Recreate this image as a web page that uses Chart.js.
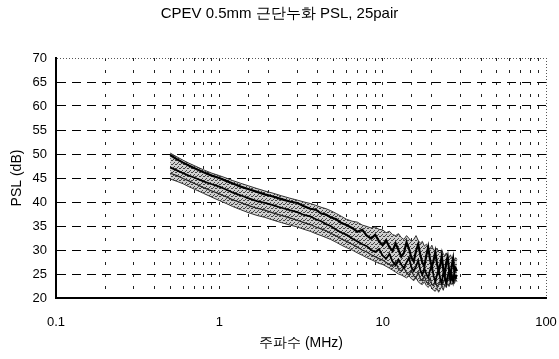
<!DOCTYPE html>
<html><head><meta charset="utf-8">
<script src="https://cdn.jsdelivr.net/npm/chart.js@4/dist/chart.umd.min.js"></script>
<style>html,body{margin:0;padding:0;background:#fff}#w{width:559px;height:359px}</style>
</head><body><div id="w"><canvas id="c"></canvas></div>
<script>
const titleText = "CPEV 0.5mm 근단누화 PSL, 25pair";
const xTitle = "주파수 (MHz)";
const yTitle = "PSL (dB)";
const xTickLabels = [0.1, 1, 10, 100];
const freq = [0.5,0.55,0.6,0.65,0.7,0.8,0.9,1.0,1.1,1.2,1.35,1.5,1.7,1.9,2.1,2.4,2.7,
  3.0,3.3,3.6,3.9,4.2,4.5,4.8, 5.2,5.6,6.0, 6.5,7.0,7.5,8.0,8.5,9.0,9.5,10,
  10.5,11,11.5,12,12.5,13,13.5,14,14.5,15,15.5,16,16.5,17,17.5,18,18.5,19,19.5,20,20.5,21,21.5,22,22.5,23,23.5,24,24.5,25,25.5,26,26.5,27,27.5,28,28.5];
const bandTop = [50.2,49.4,48.7,48.1,47.6,46.7,46.0,45.5,45.0,44.5,43.9,43.4,42.8,42.3,41.9,41.3,40.8,
  40.4,40.0,39.7,39.3,38.9,38.6,38.2, 37.6,37.0,36.4, 36.0,35.8,35.2,34.9,34.6,34.8,34.3,34.2,
  33.6,33.9,33.2,33.0,33.4,32.6,32.2,33.0,32.4,31.8,32.2,33.0,32.0,31.4,31.8,30.8,31.2,30.6,30.2,31.0,30.0,29.8,30.4,29.6,29.4,30.0,29.2,28.8,29.4,28.6,28.4,29.0,28.2,28.6,27.8,28.4,28.0];
const bandBottom = [44.8,44.3,43.8,43.2,42.7,41.8,41.0,40.3,39.7,39.1,38.4,37.8,37.2,36.8,36.3,35.7,35.2,
  34.8,34.3,33.9,33.4,33.0,32.6,32.2, 31.6,31.0,30.5, 30.0,29.4,28.9,28.4,28.0,27.6,27.2,27.0,
  26.6,26.2,25.8,25.4,25.0,24.8,24.5,24.2,24.6,24.0,23.6,24.2,23.4,23.0,22.8,23.4,22.6,22.2,22.8,22.0,21.6,21.4,22.0,21.2,21.8,22.4,21.6,22.8,22.2,23.0,22.4,23.4,22.8,23.2,23.0,23.8,23.4];
const lineA = [49.8,48.9,48.2,47.6,47.1,46.2,45.5,45.0,44.4,43.9,43.2,42.7,42.1,41.6,41.2,40.6,40.1,
  39.8,39.1,38.6,38.4,37.6,37.4,36.8, 36.4,35.6,35.2, 34.6,33.8,34.2,33.0,32.4,33.2,31.8,31.0,
  32.0,30.6,29.8,31.4,30.0,28.6,29.4,31.6,30.2,28.4,27.6,29.8,31.2,29.0,27.4,26.6,28.8,30.6,28.0,26.4,27.8,29.6,27.2,25.6,26.8,28.8,26.0,24.8,27.4,28.6,25.8,24.6,26.8,28.2,25.4,26.2,25.6];
const lineB = [47.2,46.6,46.0,45.5,45.1,44.3,43.7,43.2,42.6,42.0,41.4,40.8,40.2,39.8,39.4,38.8,38.3,
  37.9,37.3,37.0,36.4,36.0,35.4,35.0, 34.2,33.6,33.2, 32.4,31.8,31.2,30.8,30.0,29.6,30.2,28.8,
  28.2,29.2,27.6,26.8,28.0,27.0,26.2,27.4,28.4,26.4,25.6,26.6,27.8,25.8,24.8,26.2,25.0,24.2,25.8,26.8,24.6,23.4,24.8,26.0,24.0,23.2,25.2,24.4,23.0,24.6,25.6,23.6,24.8,23.4,25.0,24.2,24.8];
const lineC = [46.0,45.5,44.9,44.4,43.9,43.0,42.3,41.7,41.1,40.5,39.9,39.3,38.7,38.3,37.8,37.2,36.7,
  36.2,35.7,35.3,34.8,34.4,34.0,33.5, 32.9,32.3,31.8, 31.2,30.6,30.0,29.6,29.0,28.6,28.2,27.9,
  27.4,27.0,26.6,27.6,26.0,25.6,26.4,25.2,24.8,25.8,24.6,24.2,25.4,24.0,23.6,24.6,23.4,23.0,24.2,22.8,22.6,23.6,22.4,22.8,23.6,22.6,23.2,24.0,23.0,23.6,24.4,23.4,24.0,24.8,23.6,24.4,24.0];

function pts(arr){ return freq.map((f,i)=>({x:f,y:arr[i]})); }

const pc = document.createElement('canvas'); pc.width = 4; pc.height = 4;
const pctx = pc.getContext('2d');
pctx.fillStyle = '#d0d0d0'; pctx.fillRect(0,0,4,4);
pctx.fillStyle = '#444'; pctx.fillRect(0,0,1,1); pctx.fillRect(2,2,1,1); pctx.fillRect(3,0,1,1); pctx.fillRect(1,3,1,1);
const pattern = pctx.createPattern(pc,'repeat');

const fam = "'Liberation Sans', Arial, sans-serif";

new Chart(document.getElementById('c'), {
  type:'line',
  data:{datasets:[
    {data:pts(bandTop), borderColor:'#333', borderWidth:1, backgroundColor:pattern, fill:'+1', pointRadius:0, tension:0, order:10},
    {data:pts(bandBottom), borderColor:'#333', borderWidth:1, fill:false, pointRadius:0, tension:0, order:9},
    {data:pts(lineC), borderColor:'#222', borderWidth:1.2, fill:false, pointRadius:0, tension:0, order:3},
    {data:pts(lineB), borderColor:'#000', borderWidth:1.8, fill:false, pointRadius:0, tension:0, order:2},
    {data:pts(lineA), borderColor:'#000', borderWidth:2.2, fill:false, pointRadius:0, tension:0, order:1}
  ]},
  options:{
    responsive:true, maintainAspectRatio:false, animation:false,
    layout:{padding:{left:0,right:0,top:0,bottom:0}},
    plugins:{
      legend:{display:false}, tooltip:{enabled:false},
      title:{display:true, text:titleText, color:'#000', font:{family:fam, size:15, weight:'normal'}, padding:{top:5,bottom:35}}
    },
    scales:{
      x:{type:'logarithmic', min:0.1, max:100,
        title:{display:true, text:xTitle, color:'#000', font:{family:fam,size:14}, padding:{top:0,bottom:7}},
        ticks:{color:'#000', font:{family:fam,size:13}, autoSkip:false, maxRotation:0, padding:17,
          callback:(v)=> xTickLabels.includes(Number(v)) ? String(v) : ''},
        grid:{color:(c)=> (c.tick && c.tick.value===100) ? '#555' : '#222', lineWidth:1, drawTicks:false},
        border:{display:true, color:'#000', width:2, dash:(c)=> (c.tick && c.tick.value===100) ? [1,2] : [3,9]},
        afterFit:(s)=>{ s.height = 61; s.paddingRight = 13; }
      },
      y:{type:'linear', min:20, max:70,
        title:{display:true, text:yTitle, color:'#000', font:{family:fam,size:14}, padding:{top:9,bottom:0}},
        ticks:{stepSize:5, color:'#000', font:{family:fam,size:13}, padding:9},
        grid:{color:(c)=> (c.tick && c.tick.value===70) ? '#555' : '#000', lineWidth:1, drawTicks:false},
        border:{display:true, color:'#000', width:2, dash:(c)=> (c.tick && c.tick.value===70) ? [1,2] : [9,6]},
        afterFit:(s)=>{ s.width = 56; }
      }
    }
  }
});
</script></body></html>
